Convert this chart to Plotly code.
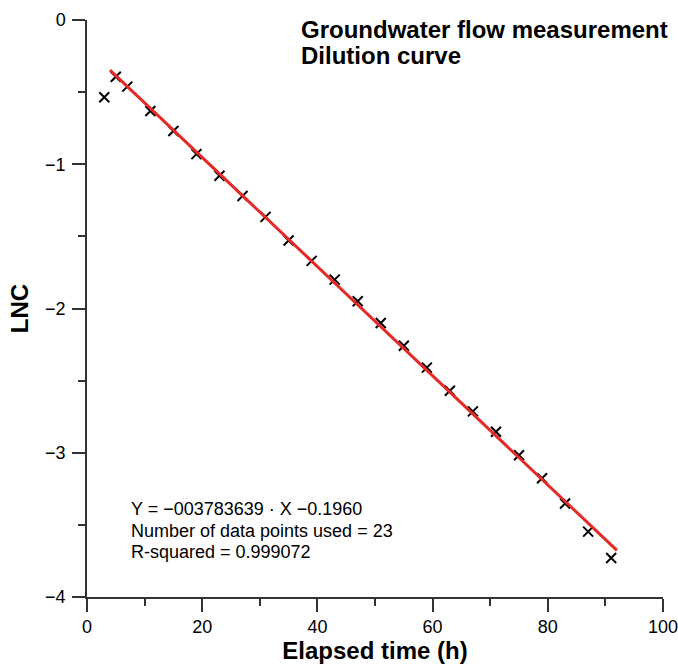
import plotly.graph_objects as go

# Data
elapsed_h = [3, 5, 7, 11, 15, 19, 23, 27, 31, 35, 39, 43, 47, 51, 55, 59, 63, 67, 71, 75, 79, 83, 87, 91]
lnc = [-0.536, -0.393, -0.462, -0.631, -0.770, -0.930, -1.080, -1.220, -1.365, -1.529, -1.670, -1.800,
       -1.950, -2.100, -2.258, -2.410, -2.570, -2.713, -2.855, -3.017, -3.177, -3.352, -3.547, -3.730]

# Regression as stated on the chart
slope = -0.03783639
intercept = -0.1960
fit_x = [4, 92]
fit_y = [slope * v + intercept for v in fit_x]

x_ticks = [0, 20, 40, 60, 80, 100]
y_ticks = [-4, -3, -2, -1, 0]
y_tick_labels = ["\u22124", "\u22123", "\u22122", "\u22121", "0"]

title_lines = ["Groundwater flow measurement", "Dilution curve"]
stats_lines = ["Y = \u2212003783639 \u00b7 X \u22120.1960",
               "Number of data points used = 23",
               "R-squared = 0.999072"]

FONT = "Liberation Sans, Arial, sans-serif"
AXIS_COLOR = "#333333"

fig = go.Figure()
fig.add_trace(go.Scatter(
    x=elapsed_h, y=lnc, mode="markers",
    marker=dict(symbol="x-thin", size=10, line=dict(width=2, color="black"), color="black"),
    showlegend=False, hoverinfo="x+y"))
fig.add_trace(go.Scatter(
    x=fit_x, y=fit_y, mode="lines",
    line=dict(color="#e32b26", width=3),
    showlegend=False))

fig.update_layout(
    width=678, height=668,
    margin=dict(l=87, r=15, t=20, b=71),
    paper_bgcolor="white", plot_bgcolor="white",
    font=dict(family=FONT, color="black", size=18),
    xaxis=dict(
        range=[0, 100], tickvals=x_ticks, ticks="outside", ticklen=13, tickwidth=1.5,
        tickcolor=AXIS_COLOR, showline=True, linecolor=AXIS_COLOR, linewidth=1.5,
        showgrid=False, zeroline=False, tickfont=dict(size=18), ticklabeloverflow="allow",
        minor=dict(dtick=10, ticks="outside", ticklen=7, tickwidth=1.5, tickcolor=AXIS_COLOR, showgrid=False),
        title=dict(text="<b>Elapsed time (h)</b>", font=dict(size=24), standoff=4),
        automargin=False),
    yaxis=dict(
        range=[-4, 0], tickvals=y_ticks, ticktext=y_tick_labels, ticks="outside", ticklen=13,
        tickwidth=1.5, tickcolor=AXIS_COLOR, showline=True, linecolor=AXIS_COLOR, linewidth=1.5,
        showgrid=False, zeroline=False, tickfont=dict(size=18), ticklabelstandoff=3,
        ticklabeloverflow="allow",
        minor=dict(dtick=0.5, ticks="outside", ticklen=7, tickwidth=1.5, tickcolor=AXIS_COLOR, showgrid=False),
        title=dict(text="<b>LNC</b>", font=dict(size=24), standoff=10),
        automargin=False),
)

title_y = [0.9835, 0.938]
for line, yy in zip(title_lines, title_y):
    fig.add_annotation(
        x=0.368, y=yy, xref="paper", yref="paper", xanchor="left", yanchor="middle",
        text="<b>" + line + "</b>", showarrow=False, align="left",
        font=dict(size=24, family=FONT, color="black"))

stats_y = [0.1525, 0.1144, 0.078]
for line, yy in zip(stats_lines, stats_y):
    fig.add_annotation(
        x=0.073, y=yy, xref="paper", yref="paper", xanchor="left", yanchor="middle",
        text=line, showarrow=False, align="left",
        font=dict(size=18, family=FONT, color="black"))

fig.write_html("out.html")
